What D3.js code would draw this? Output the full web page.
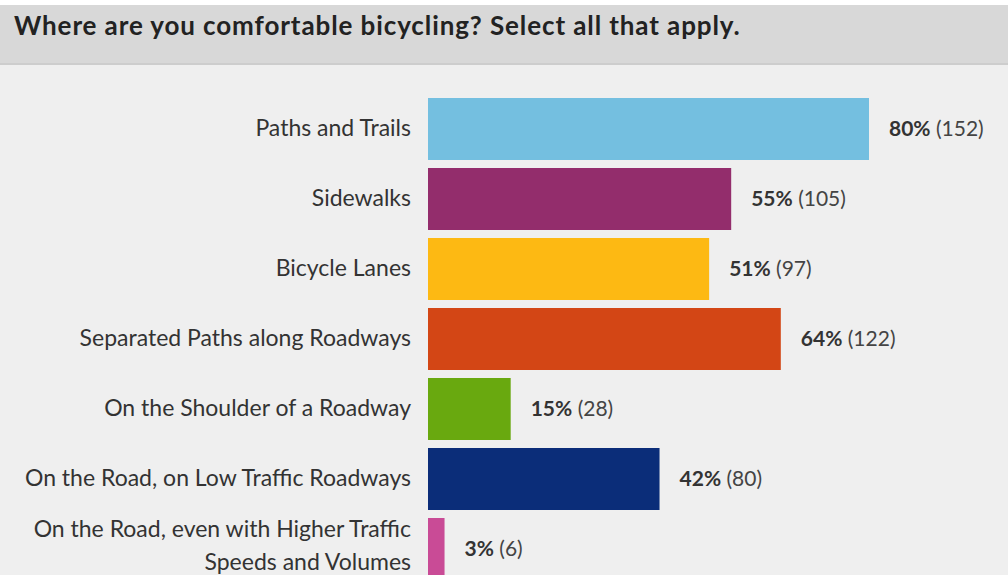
<!DOCTYPE html>
<html>
<head>
<meta charset="utf-8">
<script src="https://cdn.jsdelivr.net/npm/d3@7"></script>
<style>
  body { margin: 0; background: #fff; }
  svg { display: block; }
</style>
</head>
<body>
<script>
// survey answers, top to bottom
var categories = [
  ["Paths and Trails"],
  ["Sidewalks"],
  ["Bicycle Lanes"],
  ["Separated Paths along Roadways"],
  ["On the Shoulder of a Roadway"],
  ["On the Road, on Low Traffic Roadways"],
  ["On the Road, even with Higher Traffic", "Speeds and Volumes"]
];
var percents = [80, 55, 51, 64, 15, 42, 3];
var counts = [152, 105, 97, 122, 28, 80, 6];
var colors = ["#74bfe0", "#932d6c", "#fdb913", "#d34615", "#69a90f", "#0b2d79", "#c94b96"];
var title = "Where are you comfortable bicycling? Select all that apply.";

var width = 1008, height = 575;
var font = "Lato, 'Open Sans', sans-serif";

var svg = d3.select("body").append("svg")
  .attr("width", width)
  .attr("height", height);

// body background
svg.append("rect")
  .attr("width", width).attr("height", height)
  .attr("fill", "#efefef");

// header band
svg.append("rect")
  .attr("x", 0).attr("y", 0).attr("width", width).attr("height", 5)
  .attr("fill", "#ffffff");
svg.append("rect")
  .attr("x", 0).attr("y", 5).attr("width", width).attr("height", 59)
  .attr("fill", "#d8d8d8");
svg.append("rect")
  .attr("x", 0).attr("y", 63).attr("width", width).attr("height", 2)
  .attr("fill", "#cdcdcd");

svg.append("text")
  .attr("x", 14).attr("y", 35)
  .attr("font-family", font)
  .attr("font-weight", "bold")
  .attr("font-size", 26)
  .attr("letter-spacing", 0.9)
  .attr("fill", "#222")
  .text(title);

var xScale = d3.scaleLinear()
  .domain([0, 80])
  .range([428, 869]);

var step = 70;
var yScale = d3.scaleBand()
  .domain(d3.range(categories.length))
  .range([98, 98 + step * categories.length - 8])
  .paddingInner(8 / step)
  .paddingOuter(0);

var rows = svg.selectAll("g.row")
  .data(percents)
  .enter().append("g")
  .attr("class", "row");

rows.append("rect")
  .attr("x", xScale(0))
  .attr("y", (d, i) => yScale(i))
  .attr("width", d => xScale(d) - xScale(0))
  .attr("height", yScale.bandwidth())
  .attr("fill", (d, i) => colors[i]);

// category labels, right aligned next to the bars
rows.each(function (d, i) {
  var lines = categories[i];
  var mid = yScale(i) + yScale.bandwidth() / 2;
  var t = d3.select(this).append("text")
    .attr("x", 411)
    .attr("text-anchor", "end")
    .attr("font-family", font)
    .attr("font-size", 23)
    .attr("fill", "#333");
  lines.forEach(function (line, j) {
    t.append("tspan")
      .attr("x", 411)
      .attr("y", lines.length > 1 ? mid - 12 + j * 33 : mid + 7)
      .text(line);
  });
});

// value labels
var vals = rows.append("text")
  .attr("x", d => xScale(d) + 20)
  .attr("y", (d, i) => yScale(i) + yScale.bandwidth() / 2 + 7)
  .attr("font-family", font)
  .attr("font-size", 21)
  .attr("fill", "#333");
vals.append("tspan")
  .attr("font-weight", "bold")
  .text(d => d + "%");
vals.append("tspan")
  .attr("fill", "#444")
  .text((d, i) => " (" + counts[i] + ")");
</script>
</body>
</html>
